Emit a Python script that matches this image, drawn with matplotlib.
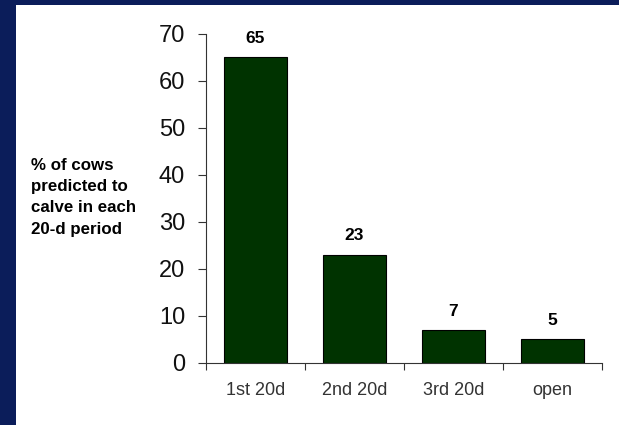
import matplotlib
matplotlib.use('Agg')
import matplotlib.pyplot as plt
from matplotlib.patches import Rectangle
import numpy as np

categories = ['1st 20d', '2nd 20d', '3rd 20d', 'open']
values = [65, 23, 7, 5]
yticks = [0, 10, 20, 30, 40, 50, 60, 70]

navy = '#0b1d5a'
bar_green = '#003300'

plt.rcParams['font.family'] = ['Liberation Sans', 'DejaVu Sans']

fig = plt.figure(figsize=(6.19, 4.25), dpi=100, facecolor=navy)
# white slide panel
fig.patches.append(Rectangle((16/619, 0), 1 - 16/619, 420/425,
                             transform=fig.transFigure, facecolor='white',
                             edgecolor='none', zorder=-5))

ax = fig.add_axes([206/619, 62.3/425, 396/619, 329/425])
ax.patch.set_alpha(0)
x = np.arange(len(categories))
bars = ax.bar(x, values, width=0.64, color=bar_green, edgecolor='black', linewidth=0.8)

for b, v in zip(bars, values):
    ax.annotate(str(v), (b.get_x() + b.get_width()/2, v), xytext=(0, 8),
                textcoords='offset points', ha='center', va='bottom',
                fontsize=12.5, fontweight='bold')

ax.set_xlim(-0.5, len(categories) - 0.5)
ax.set_ylim(0, 70)
ax.set_yticks(yticks)
ax.set_yticklabels([str(t) for t in yticks], fontsize=17, color='#111111')
ax.set_xticks(x)
ax.set_xticklabels(categories, fontsize=13, color='#333333')
ax.set_xticks(np.arange(len(categories) + 1) - 0.5, minor=True)
ax.tick_params(axis='x', which='major', length=0, pad=14)
ax.tick_params(axis='x', which='minor', length=5, width=0.8, color='#333333')
ax.tick_params(axis='y', length=6, width=0.8, color='#333333', pad=9)

for s in ['top', 'right']:
    ax.spines[s].set_visible(False)
for s in ['left', 'bottom']:
    ax.spines[s].set_color('#333333')
    ax.spines[s].set_linewidth(0.8)

fig.text(31/619, 267/425, '% of cows\npredicted to\ncalve in each\n20-d period',
         ha='left', va='top', fontsize=12.2, fontweight='bold', linespacing=1.52)

fig.savefig('out.png', dpi=100, facecolor=navy)
